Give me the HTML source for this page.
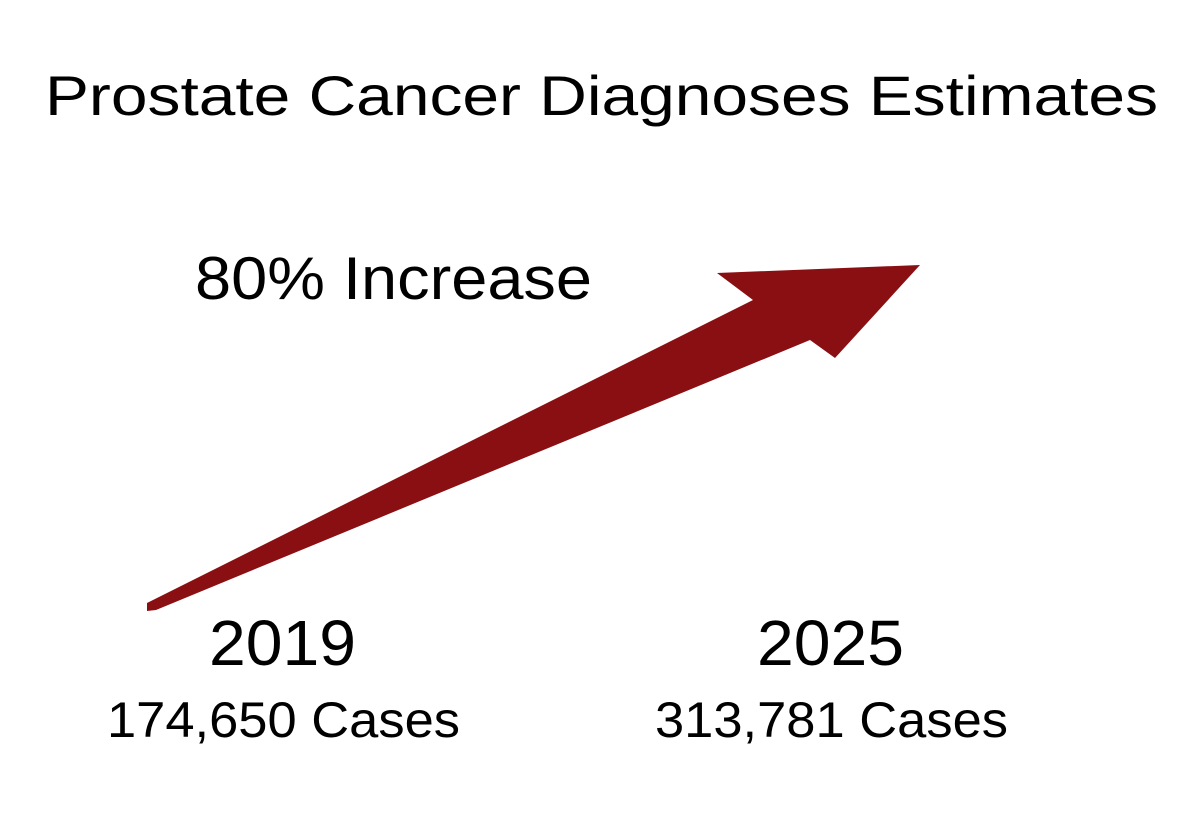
<!DOCTYPE html>
<html><head><meta charset="utf-8"><style>
html,body{margin:0;padding:0;background:#fff;}
svg{display:block;}
text{font-family:"Liberation Sans",sans-serif;fill:#000;}
</style></head><body>
<svg width="1200" height="823" viewBox="0 0 1200 823">
<rect width="1200" height="823" fill="#fff"/>
<text x="45" y="115" font-size="56" textLength="1113" lengthAdjust="spacingAndGlyphs">Prostate Cancer Diagnoses Estimates</text>
<text x="195" y="299" font-size="60" textLength="397" lengthAdjust="spacingAndGlyphs">80% Increase</text>
<polygon fill="#8a0f12" points="147,603 753,300 717,273 920,265 835,358 810,340 156,610 147,611"/>
<text x="209" y="665" font-size="64" textLength="147" lengthAdjust="spacingAndGlyphs">2019</text>
<text x="107" y="737" font-size="50" textLength="353" lengthAdjust="spacingAndGlyphs">174,650 Cases</text>
<text x="757" y="665" font-size="64" textLength="147" lengthAdjust="spacingAndGlyphs">2025</text>
<text x="655" y="737" font-size="50" textLength="353" lengthAdjust="spacingAndGlyphs">313,781 Cases</text>
</svg>
</body></html>
